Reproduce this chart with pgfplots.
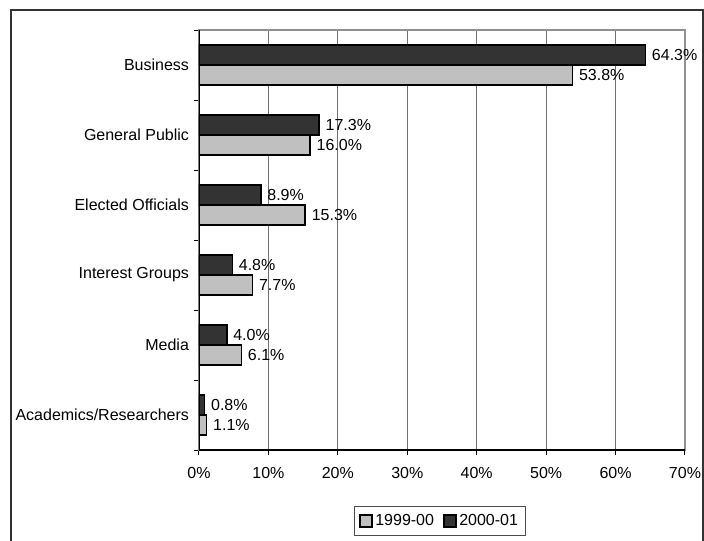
\documentclass[border=0pt]{standalone}
\usepackage{pgfplots}
\pgfplotsset{compat=1.18}
\usepackage{fontspec}
\setmainfont{Liberation Sans}
\definecolor{darkbar}{HTML}{333333}
\definecolor{lightbar}{HTML}{C0C0C0}
\definecolor{gridc}{HTML}{707070}
\definecolor{framec}{HTML}{909090}
\begin{document}
\begin{tikzpicture}
\useasboundingbox (0,0) rectangle (528pt,405pt);
\draw[line width=1.5pt, black!80] (8.25pt,-5pt) -- (8.25pt,397.5pt) -- (526.9pt,397.5pt) -- (526.9pt,-5pt);
\begin{axis}[
  at={(149.25pt,67.5pt)}, anchor=south west,
  scale only axis, width=364.5pt, height=315pt,
  xbar, bar width=15pt,
  xmin=0, xmax=70, ymin=-0.5, ymax=5.5,
  /pgf/number format/assume math mode=true,
  xtick={0,10,...,70},
  xticklabel={\pgfmathprintnumber{\tick}\%},
  ytick={-0.5,0.5,...,5.5},
  yticklabel={\mbox{}},
  extra y ticks={0,1,2,3,4,5},
  extra y tick labels={Academics/Researchers,Media,Interest Groups,Elected Officials,General Public,Business},
  extra y tick style={major tick length=0pt, grid=none, yticklabel style={xshift=-4pt}},
  tick pos=left, tick align=outside,
  major tick length=3.75pt,
  tick style={black, line width=0.75pt},
  xmajorgrids, ymajorgrids=false,
  major grid style={gridc, line width=0.75pt},
  axis line style={framec, line width=1.5pt},
  tick label style={font=\fontsize{12}{14}\selectfont},
  xticklabel style={yshift=-6pt},
  nodes near coords={\pgfmathprintnumber[fixed,fixed zerofill,precision=1]{\pgfplotspointmeta}\%},
  nodes near coords style={font=\fontsize{12}{14}\selectfont, anchor=west, xshift=1pt},
  legend columns=2,
  legend style={at={(axis description cs:0.496,-0.169)}, anchor=center,
    draw=black!70, line width=0.75pt, font=\fontsize{12}{14}\selectfont,
    inner xsep=4pt, inner ysep=4pt, /tikz/every even column/.append style={column sep=5pt}},
  legend cell align=left,
]
\addplot[draw=black, line width=1.2pt, fill=lightbar, bar shift=-7.5pt,
  legend image code/.code={\draw[draw=black, line width=0.9pt, fill=lightbar] (0pt,-4.5pt) rectangle (9pt,4.5pt);}]
  coordinates {(1.1,0) (6.1,1) (7.7,2) (15.3,3) (16.0,4) (53.8,5)};
\addlegendentry{1999-00}
\addplot[draw=black, line width=1.2pt, fill=darkbar, bar shift=7.5pt,
  legend image code/.code={\draw[draw=black, line width=0.9pt, fill=darkbar] (0pt,-4.5pt) rectangle (9pt,4.5pt);}]
  coordinates {(0.8,0) (4.0,1) (4.8,2) (8.9,3) (17.3,4) (64.3,5)};
\addlegendentry{2000-01}
\draw[black, line width=1.2pt] (rel axis cs:0,0) -- (rel axis cs:0,1);
\draw[black, line width=1.2pt] (rel axis cs:0,0) -- (rel axis cs:1,0);
\end{axis}
\end{tikzpicture}
\end{document}
